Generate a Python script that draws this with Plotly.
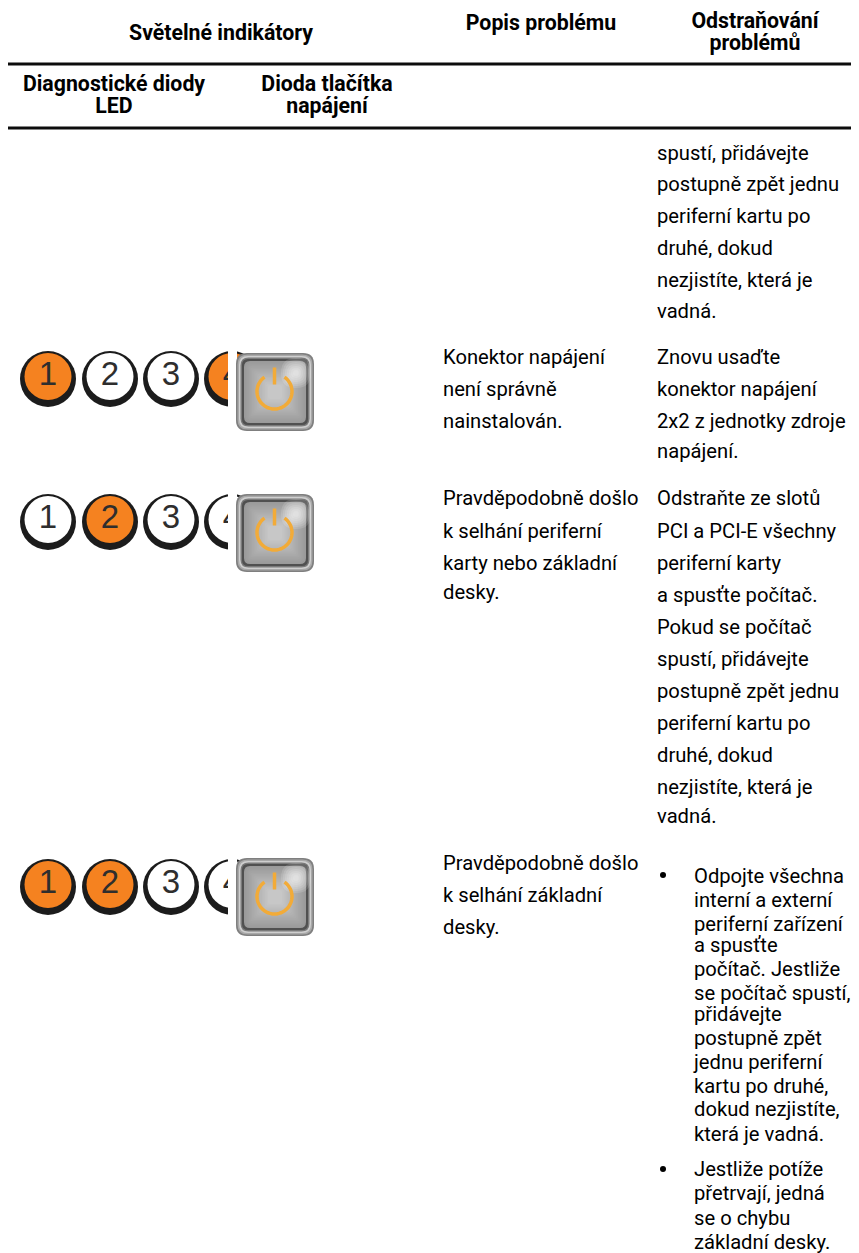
import math
import plotly.graph_objects as go

# ---------- content ----------
header_lines = ["Světelné indikátory", "Popis problému", "Odstraňování", "problémů",
                "Diagnostické diody", "LED", "Dioda tlačítka", "napájení"]
col3_lines = ["Konektor napájení", "není správně", "nainstalován.",
              "Pravděpodobně došlo", "k selhání periferní", "karty nebo základní", "desky.",
              "Pravděpodobně došlo", "k selhání základní", "desky."]
col4_lines = ["spustí, přidávejte", "postupně zpět jednu", "periferní kartu po", "druhé, dokud",
              "nezjistíte, která je", "vadná.",
              "Znovu usaďte", "konektor napájení", "2x2 z jednotky zdroje", "napájení.",
              "Odstraňte ze slotů", "PCI a PCI-E všechny", "periferní karty", "a spusťte počítač.",
              "Pokud se počítač", "spustí, přidávejte", "postupně zpět jednu", "periferní kartu po",
              "druhé, dokud", "nezjistíte, která je", "vadná."]
bullet_lines = ["Odpojte všechna", "interní a externí", "periferní zařízení", "a spusťte",
                "počítač. Jestliže", "se počítač spustí,", "přidávejte", "postupně zpět",
                "jednu periferní", "kartu po druhé,", "dokud nezjistíte,", "která je vadná.",
                "Jestliže potíže", "přetrvají, jedná", "se o chybu", "základní desky."]
led_digits = ["1", "2", "3", "4"]
led_states = [[1, 0, 0, 1], [0, 1, 0, 0], [1, 1, 0, 0]]

# ---------- layout (pixel space of the page) ----------
W, H = 859, 1253
PAGE_MARGIN = 8    # the page body's own margin
FONT = "Roboto"
BODY, BOLD = 20.2, 21.3
BL = 0.36   # baseline -> middle of line, in em

header_x = [221, 541, 755, 755, 114, 114, 327, 327]
header_y = [42, 32, 30, 52, 93, 115, 93, 115]
col3_y = [366, 398, 430, 507, 540, 572, 601, 872, 904, 936]
col4_y = [162, 193, 225, 257, 289, 320, 366, 398, 430, 460,
          507, 540, 572, 604, 636, 668, 700, 732, 764, 796, 825]
bullet_y = [885, 909, 933, 954, 978, 1002, 1023, 1047, 1071, 1095, 1118, 1143,
            1178, 1202, 1227, 1251]
col3_x, col4_x, bullet_text_x = 443, 657, 694
bullet_dot_x, bullet_dot_y = [663, 663], [875, 1169]
led_x = [48, 110, 171, 232]
row_cy = [378, 521, 886]
btn_top = [353, 494, 858]
btn_left, btn_size = 236, 78
clip_x0 = 228
rule_y = [64, 128]
ORANGE, AMBER = "#f58220", "#f2ab38"

fig = go.Figure()

# rules
for y in rule_y:
    fig.add_trace(go.Scatter(x=[7, W], y=[y, y], mode="lines",
                             line=dict(color="#0c0c0c", width=3), hoverinfo="skip"))

# text
def text_trace(xs, ys, labels, size, pos, bold=False):
    fig.add_trace(go.Scatter(
        x=xs, y=[y - BL * size for y in ys], text=labels, mode="text",
        textposition=pos, cliponaxis=False, hoverinfo="skip",
        textfont=dict(family=FONT, size=size, color="#000000",
                      weight="bold" if bold else "normal")))

text_trace(header_x, header_y, header_lines, BOLD, "middle center", True)
text_trace([col3_x] * len(col3_lines), col3_y, col3_lines, BODY, "middle right")
text_trace([col4_x] * len(col4_lines), col4_y, col4_lines, BODY, "middle right")
text_trace([bullet_text_x] * len(bullet_lines), bullet_y, bullet_lines, BODY, "middle right")
fig.add_trace(go.Scatter(x=bullet_dot_x, y=bullet_dot_y, mode="markers",
                         marker=dict(color="#000000", size=6), hoverinfo="skip"))

# LEDs
for cy, states in zip(row_cy, led_states):
    fig.add_trace(go.Scatter(x=led_x, y=[cy + 1] * 4, mode="markers",
                             marker=dict(size=56, color="#1c1c1c", line=dict(width=0)),
                             hoverinfo="skip"))
    fig.add_trace(go.Scatter(x=led_x, y=[cy - 1.5] * 4, mode="markers+text",
                             text=led_digits, textposition="middle center",
                             textfont=dict(family="Liberation Sans", size=33, color="#2e2e2e"),
                             marker=dict(size=47,
                                         color=[ORANGE if s else "#ffffff" for s in states],
                                         line=dict(width=0)),
                             hoverinfo="skip"))

# shapes: clip strip + buttons
shapes = []
def rrect(x0, y0, x1, y1, r):
    return (f"M{x0+r},{y0} L{x1-r},{y0} Q{x1},{y0} {x1},{y0+r} L{x1},{y1-r} Q{x1},{y1} {x1-r},{y1} "
            f"L{x0+r},{y1} Q{x0},{y1} {x0},{y1-r} L{x0},{y0+r} Q{x0},{y0} {x0+r},{y0} Z")

def add_path(path, fill=None, stroke=None, w=0, op=1):
    shapes.append(dict(type="path", path=path, xref="x", yref="y", layer="above",
                       fillcolor=fill if fill else "rgba(0,0,0,0)", opacity=op,
                       line=dict(color=stroke if stroke else "rgba(0,0,0,0)", width=w)))

for cy, top in zip(row_cy, btn_top):
    shapes.append(dict(type="rect", x0=clip_x0, x1=btn_left + 1, y0=cy - 32, y1=cy + 32,
                       xref="x", yref="y", layer="above", fillcolor="#ffffff",
                       line=dict(width=0)))
    x0, x1, y0, y1 = btn_left, btn_left + btn_size, top, top + btn_size
    bands = [(0, "#7f7f7f", 11), (1.5, "#a8a8a8", 10), (3, "#cfcfcf", 9), (4.5, "#7a7a7a", 8),
             (6, "#505050", 6)]
    for inset, col, r in bands:
        add_path(rrect(x0 + inset, y0 + inset, x1 - inset, y1 - inset, r), fill=col)
    # face: a soft ramp from the rim to the centre
    for step in range(16):
        inset = 8 + step * 1.6
        g = 154 + step * 3
        add_path(rrect(x0 + inset, y0 + inset, x1 - inset, y1 - inset, max(6 - step, 2)),
                 fill=f"rgb({g},{g},{g})")
    # highlight, upper right of the face
    hx, hy = x0 + 60, y0 + 20
    for rad in range(15, 1, -2):
        add_path(rrect(hx - rad, hy - rad, hx + rad, hy + rad, rad * 0.98), fill="#ffffff", op=0.14)
    # power symbol
    px, py = x0 + 38.5, y0 + 38.5
    pts = []
    for k in range(41):
        t = math.radians(35 + k * 290 / 40)
        pts.append((px + 17.5 * math.sin(t), py - 17.5 * math.cos(t)))
    add_path("M" + " L".join(f"{a:.1f},{b:.1f}" for a, b in pts), stroke=AMBER, w=3.5)
    add_path(f"M{px},{py-24} L{px},{py-7}", stroke=AMBER, w=3.5)

fig.update_layout(
    width=W - PAGE_MARGIN, height=H - PAGE_MARGIN, margin=dict(l=0, r=0, t=0, b=0),
    paper_bgcolor="#ffffff", plot_bgcolor="#ffffff", showlegend=False, shapes=shapes,
    xaxis=dict(range=[PAGE_MARGIN, W], visible=False, fixedrange=True),
    yaxis=dict(range=[H, PAGE_MARGIN], visible=False, fixedrange=True),
)
fig.write_html("out.html", config=dict(displayModeBar=False))
